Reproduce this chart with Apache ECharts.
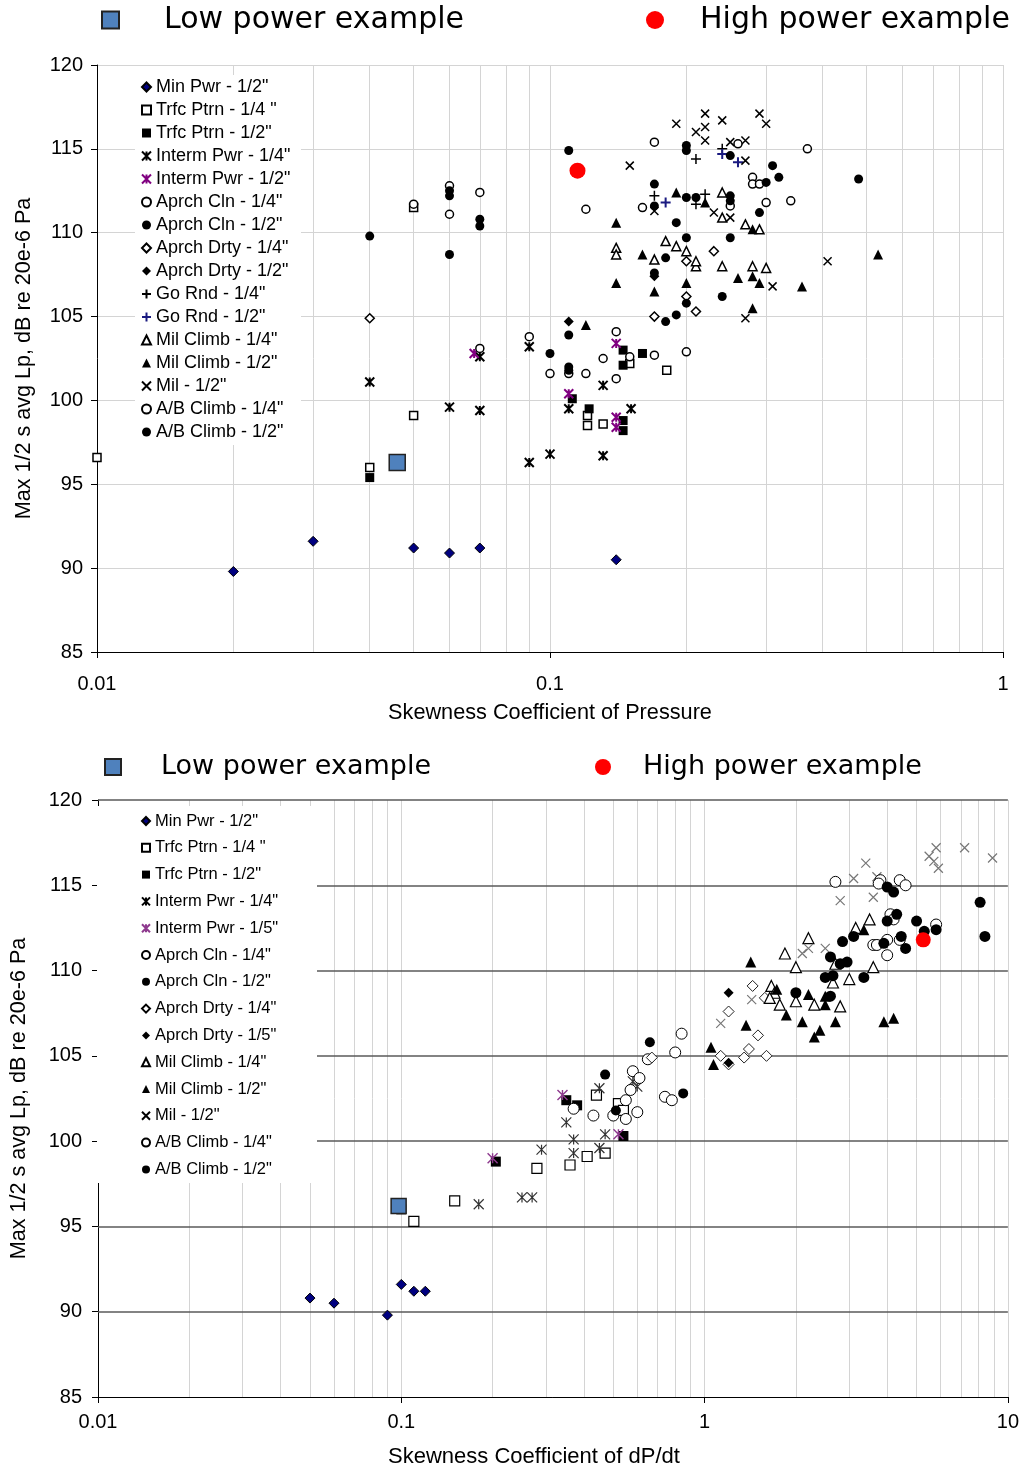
<!DOCTYPE html>
<html>
<head>
<meta charset="utf-8">
<script src="https://cdn.jsdelivr.net/npm/echarts@6.0.0/dist/echarts.min.js"></script>
<style>
html, body { margin: 0; padding: 0; background: #fff; }
#main { width: 1022px; height: 1471px; }
</style>
</head>
<body>
<div id="main"></div>
<script>
// ---- top chart: skewness coefficient of pressure ----
var topMinPwr   = [[0.02,89.8],[0.03,91.6],[0.05,91.2],[0.06,90.9],[0.07,91.2],[0.14,90.5]];
var topTrfc14   = [[0.01,96.6],[0.04,96.0],[0.05,99.1],[0.05,111.5],[0.121,99.1],[0.121,98.5],[0.131,98.6],[0.15,102.2],[0.181,101.8]];
var topTrfc12   = [[0.04,95.4],[0.122,99.5],[0.112,100.1],[0.145,102.1],[0.145,103.0],[0.16,102.8],[0.145,98.8],[0.145,98.2]];
var topInterm14 = [[0.04,101.1],[0.06,99.6],[0.07,99.4],[0.07,102.6],[0.09,103.2],[0.09,96.3],[0.1,96.8],[0.11,99.5],[0.131,96.7],[0.131,100.9],[0.151,99.5]];
var topInterm12 = [[0.068,102.8],[0.11,100.4],[0.14,103.4],[0.14,99.0],[0.14,98.4]];
var topAprCln14 = [[0.05,111.7],[0.06,112.8],[0.06,111.1],[0.07,112.4],[0.07,103.1],[0.09,103.8],[0.1,101.6],[0.11,101.6],[0.12,101.6],[0.131,102.5],[0.14,101.3],[0.14,104.1],[0.15,102.6]];
var topAprCln12 = [[0.04,109.8],[0.06,112.5],[0.06,112.2],[0.06,108.7],[0.07,110.8],[0.07,110.4],[0.1,102.8],[0.11,103.9],[0.11,102.0],[0.11,101.8]];
var topAprDrt14 = [[0.04,104.9],[0.17,105.0],[0.21,105.3],[0.23,108.9],[0.2,108.3],[0.2,106.2]];
var topAprDrt12 = [[0.11,104.7],[0.17,107.4]];
var topGoRnd14  = [[0.17,112.2],[0.21,114.4],[0.21,111.7],[0.22,112.3],[0.24,115.0]];
var topGoRnd12  = [[0.18,111.8],[0.24,114.7],[0.26,114.2]];
var topMilCl14  = [[0.14,109.1],[0.14,108.7],[0.17,108.4],[0.18,109.5],[0.19,109.2],[0.2,108.9],[0.21,108.0],[0.21,108.3],[0.24,112.4],[0.24,110.9],[0.27,110.5],[0.29,110.2],[0.24,108.0],[0.28,108.0],[0.30,107.9]];
var topMilCl12  = [[0.12,104.5],[0.14,110.6],[0.14,107.0],[0.16,108.7],[0.17,106.5],[0.2,107.0],[0.19,112.4],[0.22,111.8],[0.28,110.2],[0.26,107.3],[0.28,107.4],[0.29,107.0],[0.36,106.8],[0.53,108.7],[0.28,105.5]];
var topMil12    = [[0.19,116.5],[0.15,114.0],[0.22,117.1],[0.24,116.7],[0.22,116.3],[0.21,116.0],[0.22,115.5],[0.29,117.1],[0.30,116.5],[0.25,115.4],[0.27,115.5],[0.27,114.3],[0.23,111.2],[0.25,110.9],[0.41,108.3],[0.31,106.8],[0.27,104.9],[0.17,111.3]];
var topAB14     = [[0.17,102.7],[0.2,102.9],[0.17,115.4],[0.12,111.4],[0.16,111.5],[0.37,115.0],[0.28,113.3],[0.28,112.9],[0.29,112.9],[0.30,111.8],[0.34,111.9],[0.25,111.6],[0.26,115.3]];
var topAB12     = [[0.11,114.9],[0.17,112.9],[0.17,111.6],[0.19,110.6],[0.2,109.7],[0.18,108.5],[0.17,107.6],[0.2,105.8],[0.18,104.7],[0.19,105.1],[0.2,112.1],[0.21,112.1],[0.25,114.6],[0.25,112.2],[0.3,113.0],[0.31,114.0],[0.32,113.3],[0.48,113.2],[0.29,111.2],[0.24,106.2],[0.2,115.2],[0.2,114.9],[0.25,109.7],[0.25,111.9]];
var topLow      = [[0.046,96.3]];
var topHigh     = [[0.115,113.7]];

// ---- bottom chart: skewness coefficient of dP/dt ----
var botMinPwr   = [[0.05,90.8],[0.06,90.5],[0.09,89.8],[0.1,91.6],[0.11,91.2],[0.12,91.2]];
var botTrfc14   = [[0.11,95.3],[0.15,96.5],[0.28,98.4],[0.44,102.7],[0.36,98.6],[0.41,99.1],[0.47,99.3],[0.52,102.2],[0.54,101.8]];
var botTrfc12   = [[0.1,96.0],[0.205,98.8],[0.35,102.4],[0.38,102.1],[0.54,100.3]];
var botInterm14 = [[0.18,96.3],[0.25,96.7],[0.27,96.7],[0.29,99.5],[0.35,101.1],[0.37,100.1],[0.37,99.3],[0.45,103.1],[0.47,100.4],[0.45,99.6],[0.6,103.2],[0.58,103.5]];
var botInterm15 = [[0.2,99.0],[0.34,102.7],[0.52,100.4]];
var botAprCln14 = [[0.37,101.9],[0.43,101.5],[0.5,101.5],[0.55,101.3],[0.55,102.4],[0.6,101.7],[0.57,103.0],[0.58,104.1],[0.61,103.7],[0.74,102.6],[0.78,102.4],[0.8,105.2],[0.65,104.8],[0.84,106.3]];
var botAprCln12 = [[0.47,103.9],[0.51,101.8],[0.85,102.8],[0.66,105.8]];
var botAprDrt14 = [[0.67,104.9],[1.44,109.1],[1.2,107.6],[1.5,106.2],[1.4,105.4],[1.35,104.9],[1.6,105.0],[1.13,105.0],[1.2,104.5],[1.58,108.4]];
var botAprDrt15 = [[1.2,108.7],[1.2,104.6]];
var botMilCl14  = [[1.66,109.1],[1.7,108.7],[1.64,108.4],[1.77,108.0],[2.0,108.2],[1.84,111.0],[2.0,110.2],[2.2,111.9],[2.3,108.0],[2.65,109.3],[2.7,110.4],[2.8,107.9],[3.0,109.5],[3.15,112.5],[3.5,113.0],[3.6,110.2]];
var botMilCl12  = [[1.05,105.5],[1.07,104.5],[1.42,110.5],[1.37,106.8],[1.73,108.9],[1.86,107.4],[2.1,107.0],[2.2,108.6],[2.3,106.1],[2.4,106.5],[2.5,108.5],[2.5,108.0],[2.7,107.0],[3.9,107.0],[4.2,107.2],[3.35,112.4]];
var botMil12    = [[1.43,108.3],[1.13,106.9],[2.1,111.0],[2.2,111.3],[2.5,111.3],[2.8,114.1],[5.8,117.2],[7.2,117.2],[8.9,116.6],[5.5,116.7],[5.7,116.4],[5.9,116.0],[3.4,116.3],[3.1,115.4],[3.7,115.5],[3.6,114.3]];
var botAB14     = [[2.7,115.2],[3.8,115.3],[4.4,115.3],[4.6,115.0],[3.75,115.1],[4.1,113.3],[4.2,113.0],[5.8,112.7],[3.6,111.5],[3.7,111.5],[4.0,111.8],[4.0,110.9],[4.4,111.8]];
var botAB12     = [[2.0,108.7],[2.5,109.6],[2.65,109.7],[2.6,108.5],[2.6,110.8],[2.8,110.4],[2.95,110.5],[2.85,111.7],[3.1,112.0],[4.0,114.9],[4.2,114.6],[4.3,113.3],[4.0,112.9],[5.0,112.9],[5.3,112.3],[5.8,112.4],[8.1,114.0],[8.4,112.0],[3.9,111.6],[4.45,112.0],[4.6,111.3],[3.35,109.6]];
var botLow      = [[0.098,96.2]];
var botHigh     = [[5.26,111.8]];

// minor grid lines (log axes) and horizontal lines of the lower chart
var topMinorX = [0.02,0.03,0.04,0.05,0.06,0.07,0.08,0.09,0.2,0.3,0.4,0.5,0.6,0.7,0.8,0.9];
var botMinorX = [0.02,0.03,0.04,0.05,0.06,0.07,0.08,0.09,0.2,0.3,0.4,0.5,0.6,0.7,0.8,0.9,2,3,4,5,6,7,8,9];
var botHLines = [90,95,100,105,110,115,120];

var FONT = 'Liberation Sans';
var ASTER = 'path://M0,0L10,10M10,0L0,10M5,0L5,10';
var CROSS = 'path://M0,0L10,10M10,0L0,10';
var PLUS  = 'path://M5,0L5,10M0,5L10,5';
var NONE  = 'rgba(0,0,0,0)';

function mk(name, data, g, symbol, size, style) {
  style.opacity = 1;
  return {
    name: name, type: 'scatter', xAxisIndex: g, yAxisIndex: g,
    data: data, symbol: symbol, symbolSize: size, z: 3,
    itemStyle: style, animation: false
  };
}

var series = [
  mk('Min Pwr - 1/2"', topMinPwr, 0, 'diamond', 10, {color: '#000080', borderColor: '#000', borderWidth: 1}),
  mk('Trfc Ptrn - 1/4 "', topTrfc14, 0, 'rect', 8, {color: '#fff', borderColor: '#000', borderWidth: 1.5}),
  mk('Trfc Ptrn - 1/2"', topTrfc12, 0, 'rect', 9, {color: '#000'}),
  mk('Interm Pwr - 1/4"', topInterm14, 0, ASTER, 9, {color: NONE, borderColor: '#000', borderWidth: 2}),
  mk('Interm Pwr - 1/2"', topInterm12, 0, ASTER, 9, {color: NONE, borderColor: '#800080', borderWidth: 2}),
  mk('Aprch Cln - 1/4"', topAprCln14, 0, 'circle', 8, {color: '#fff', borderColor: '#000', borderWidth: 1.5}),
  mk('Aprch Cln - 1/2"', topAprCln12, 0, 'circle', 9, {color: '#000'}),
  mk('Aprch Drty - 1/4"', topAprDrt14, 0, 'diamond', 9, {color: '#fff', borderColor: '#000', borderWidth: 1.5}),
  mk('Aprch Drty - 1/2"', topAprDrt12, 0, 'diamond', 10, {color: '#000'}),
  mk('Go Rnd - 1/4"', topGoRnd14, 0, PLUS, 10, {color: NONE, borderColor: '#000', borderWidth: 1.5}),
  mk('Go Rnd - 1/2"', topGoRnd12, 0, PLUS, 10, {color: NONE, borderColor: '#1a1a80', borderWidth: 2}),
  mk('Mil Climb - 1/4"', topMilCl14, 0, 'triangle', 9, {color: '#fff', borderColor: '#000', borderWidth: 1.5}),
  mk('Mil Climb - 1/2"', topMilCl12, 0, 'triangle', 10, {color: '#000'}),
  mk('Mil - 1/2"', topMil12, 0, CROSS, 8, {color: NONE, borderColor: '#000', borderWidth: 1.5}),
  mk('A/B Climb - 1/4"', topAB14, 0, 'circle', 8, {color: '#fff', borderColor: '#000', borderWidth: 1.5}),
  mk('A/B Climb - 1/2"', topAB12, 0, 'circle', 9, {color: '#000'}),
  mk('Low power example', topLow, 0, 'rect', 16, {color: '#4f81bd', borderColor: '#222', borderWidth: 1.5}),
  mk('High power example', topHigh, 0, 'circle', 16, {color: '#ff0000'}),

  mk('Min Pwr - 1/2"', botMinPwr, 1, 'diamond', 10, {color: '#000080', borderColor: '#000', borderWidth: 1}),
  mk('Trfc Ptrn - 1/4 "', botTrfc14, 1, 'rect', 10, {color: '#fff', borderColor: '#000', borderWidth: 1.2}),
  mk('Trfc Ptrn - 1/2"', botTrfc12, 1, 'rect', 10, {color: '#000'}),
  mk('Interm Pwr - 1/4"', botInterm14, 1, ASTER, 10, {color: NONE, borderColor: '#333', borderWidth: 1.2}),
  mk('Interm Pwr - 1/5"', botInterm15, 1, ASTER, 10, {color: NONE, borderColor: '#8e3a8e', borderWidth: 1.4}),
  mk('Aprch Cln - 1/4"', botAprCln14, 1, 'circle', 11, {color: '#fff', borderColor: '#000', borderWidth: 1}),
  mk('Aprch Cln - 1/2"', botAprCln12, 1, 'circle', 10, {color: '#000'}),
  mk('Aprch Drty - 1/4"', botAprDrt14, 1, 'diamond', 11, {color: '#fff', borderColor: '#222', borderWidth: 1}),
  mk('Aprch Drty - 1/5"', botAprDrt15, 1, 'diamond', 10, {color: '#000'}),
  mk('Mil Climb - 1/4"', botMilCl14, 1, 'triangle', 11, {color: '#fff', borderColor: '#000', borderWidth: 1.2}),
  mk('Mil Climb - 1/2"', botMilCl12, 1, 'triangle', 11, {color: '#000'}),
  mk('Mil - 1/2"', botMil12, 1, CROSS, 9, {color: NONE, borderColor: '#777', borderWidth: 1.2}),
  mk('A/B Climb - 1/4"', botAB14, 1, 'circle', 11, {color: '#fff', borderColor: '#000', borderWidth: 1}),
  mk('A/B Climb - 1/2"', botAB12, 1, 'circle', 11, {color: '#000'}),
  mk('Low power example', botLow, 1, 'rect', 15, {color: '#4f81bd', borderColor: '#222', borderWidth: 1.5}),
  mk('High power example', botHigh, 1, 'circle', 15, {color: '#ff0000'})
];

// grid lines that the log axis cannot draw itself
series[0].markLine = {
  silent: true, z: 1, animation: false, symbol: ['none', 'none'], label: {show: false},
  lineStyle: {color: '#d4d4d4', width: 1, type: 'solid'},
  data: topMinorX.map(function (v) { return {xAxis: v}; })
};
series[18].markLine = {
  silent: true, z: 1, animation: false, symbol: ['none', 'none'], label: {show: false},
  lineStyle: {color: '#d4d4d4', width: 1, type: 'solid'},
  data: botMinorX.map(function (v) { return {xAxis: v}; }).concat(
    botHLines.map(function (v) {
      return {yAxis: v, lineStyle: {color: '#5a5a5a', width: 1.5, type: 'solid'}};
    }))
};

var topNames = ['Min Pwr - 1/2"','Trfc Ptrn - 1/4 "','Trfc Ptrn - 1/2"','Interm Pwr - 1/4"','Interm Pwr - 1/2"',
  'Aprch Cln - 1/4"','Aprch Cln - 1/2"','Aprch Drty - 1/4"','Aprch Drty - 1/2"','Go Rnd - 1/4"','Go Rnd - 1/2"',
  'Mil Climb - 1/4"','Mil Climb - 1/2"','Mil - 1/2"','A/B Climb - 1/4"','A/B Climb - 1/2"'];
var botNames = ['Min Pwr - 1/2"','Trfc Ptrn - 1/4 "','Trfc Ptrn - 1/2"','Interm Pwr - 1/4"','Interm Pwr - 1/5"',
  'Aprch Cln - 1/4"','Aprch Cln - 1/2"','Aprch Drty - 1/4"','Aprch Drty - 1/5"',
  'Mil Climb - 1/4"','Mil Climb - 1/2"','Mil - 1/2"','A/B Climb - 1/4"','A/B Climb - 1/2"'];

function headLegend(name, left, top, size, fs, pad) {
  return {
    data: [name], left: left, top: top, padding: 0, z: 12,
    itemWidth: size, itemHeight: size,
    textStyle: {fontFamily: 'DejaVu Sans', fontSize: fs, color: '#000', lineHeight: 32, padding: [0, 0, 0, pad]}
  };
}

function xAxisOf(g, max, name, fs, nameShift) {
  return {
    type: 'log', logBase: 10, gridIndex: g, min: 0.01, max: max,
    axisLine: {show: true, lineStyle: {color: '#000', width: 1}},
    axisTick: {show: true, length: 6, lineStyle: {color: '#000'}},
    axisLabel: {fontFamily: FONT, fontSize: 20, color: '#000', margin: g === 0 ? 22 : 15,
      formatter: function (v) { return String(parseFloat(v.toPrecision(6))); }},
    splitLine: {show: true, lineStyle: {color: '#d4d4d4'}},
    name: name, nameLocation: 'middle', nameGap: g === 0 ? 50 : 49,
    nameTextStyle: {fontFamily: FONT, fontSize: fs, color: '#000', padding: [0, nameShift, 0, 0]}
  };
}

function yAxisOf(g, gap) {
  return {
    type: 'value', gridIndex: g, min: 85, max: 120, interval: 5,
    axisLine: {show: true, lineStyle: {color: '#000', width: 1}},
    axisTick: {show: true, length: 6, lineStyle: {color: '#000'}},
    axisLabel: {fontFamily: FONT, fontSize: 20, color: '#000', margin: g === 0 ? 14 : 16},
    splitLine: {show: g === 0, lineStyle: {color: '#d4d4d4'}},
    name: 'Max 1/2 s avg Lp, dB re 20e-6 Pa', nameLocation: 'middle', nameGap: gap,
    nameTextStyle: {fontFamily: FONT, fontSize: 21.6, color: '#000'}
  };
}

var option = {
  backgroundColor: '#fff',
  animation: false,
  grid: [
    {left: 97, top: 65, width: 906, height: 587},
    {left: 95, top: 800, width: 914, height: 597}
  ],
  xAxis: [
    xAxisOf(0, 1, 'Skewness Coefficient of Pressure', 21.7, 0),
    xAxisOf(1, 10, 'Skewness Coefficient of dP/dt', 22, 38)
  ],
  yAxis: [yAxisOf(0, 62), yAxisOf(1, 68)],
  graphic: [
    {type: 'rect', z: 10, silent: true, shape: {x: 135, y: 75, width: 166, height: 370}, style: {fill: '#fff'}},
    {type: 'rect', z: 10, silent: true, shape: {x: 97, y: 806, width: 220, height: 377}, style: {fill: '#fff'}}
  ],
  legend: [
    {
      data: topNames, orient: 'vertical', left: 141, top: 77, padding: 0, z: 12,
      itemWidth: 9, itemHeight: 9, itemGap: 3,
      textStyle: {fontFamily: FONT, fontSize: 18, color: '#000', lineHeight: 20}
    },
    {
      data: botNames, orient: 'vertical', left: 141, top: 811, padding: 0, z: 12,
      itemWidth: 8, itemHeight: 8, itemGap: 6.8,
      textStyle: {fontFamily: FONT, fontSize: 16.5, color: '#000', lineHeight: 20}
    },
    headLegend('Low power example', 101, 4, 17, 30, 40),
    headLegend('High power example', 646, 4, 18, 30, 31),
    headLegend('Low power example', 104, 751, 16, 27, 35),
    headLegend('High power example', 595, 751, 16, 27, 27)
  ],
  series: series
};

var chart = echarts.init(document.getElementById('main'));
chart.setOption(option);
window.addEventListener('resize', function () { chart.resize(); });
</script>
</body>
</html>
